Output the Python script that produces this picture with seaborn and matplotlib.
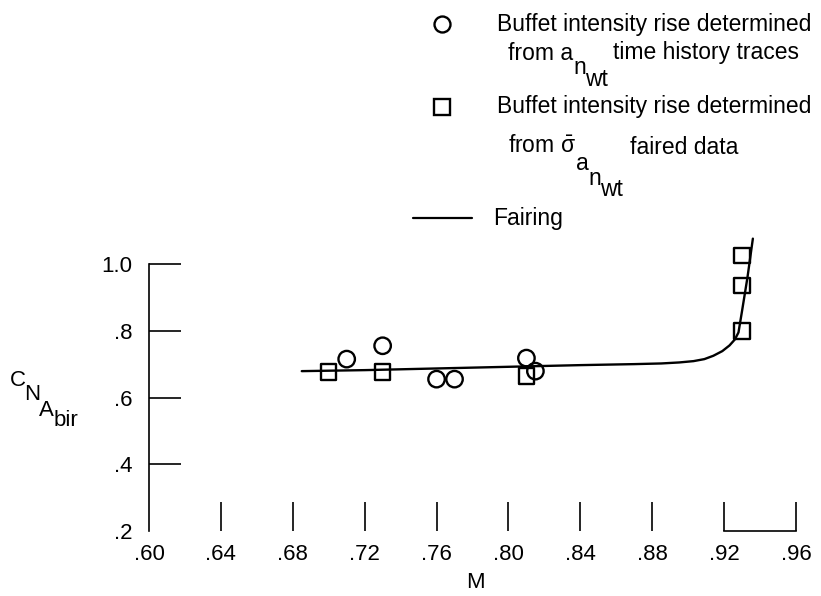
import matplotlib
matplotlib.use("Agg")
import matplotlib.pyplot as plt
import seaborn as sns
import pandas as pd

# Buffet-intensity-rise points (Mach number, normal-force coefficient)
circle_mach = [0.71, 0.73, 0.76, 0.77, 0.81, 0.815]
circle_cn = [0.715, 0.755, 0.655, 0.655, 0.718, 0.679]

square_mach = [0.70, 0.73, 0.81, 0.93, 0.93, 0.93]
square_cn = [0.676, 0.676, 0.664, 0.80, 0.935, 1.025]

# Faired curve through the data
fair_mach = [0.685, 0.72, 0.76, 0.80, 0.84, 0.87, 0.885, 0.895, 0.903, 0.909,
             0.914, 0.919, 0.923, 0.926, 0.928, 0.930, 0.933, 0.936]
fair_cn = [0.679, 0.682, 0.687, 0.692, 0.697, 0.700, 0.702, 0.705, 0.709, 0.715,
           0.725, 0.739, 0.756, 0.774, 0.795, 0.86, 0.96, 1.076]

x_ticks = [0.60, 0.64, 0.68, 0.72, 0.76, 0.80, 0.84, 0.88, 0.92, 0.96]
x_tick_labels = [".60", ".64", ".68", ".72", ".76", ".80", ".84", ".88", ".92", ".96"]
y_ticks = [0.2, 0.4, 0.6, 0.8, 1.0]
y_tick_labels = [".2", ".4", ".6", ".8", "1.0"]

sns.set_theme(style="white")
FONT = ["Liberation Sans", "DejaVu Sans"]
plt.rcParams["font.family"] = FONT
plt.rcParams["mathtext.fontset"] = "custom"
plt.rcParams["mathtext.rm"] = "Liberation Sans"
plt.rcParams["mathtext.it"] = "Liberation Sans"

W, H = 821, 596
fig = plt.figure(figsize=(W / 100, H / 100), dpi=100)

def px(x, y):
    return x / W, 1 - y / H

left, top, right, bottom = 149, 264, 796, 531
ax = fig.add_axes([left / W, 1 - bottom / H, (right - left) / W, (bottom - top) / H])

circles = pd.DataFrame({"M": circle_mach, "CN": circle_cn})
squares = pd.DataFrame({"M": square_mach, "CN": square_cn})
fairing = pd.DataFrame({"M": fair_mach, "CN": fair_cn})

sns.lineplot(data=fairing, x="M", y="CN", ax=ax, color="black", lw=1.7,
             estimator=None, sort=False, clip_on=False)
sns.scatterplot(data=circles, x="M", y="CN", ax=ax, marker="o", s=140,
                facecolor="none", edgecolor="black", linewidth=1.7, clip_on=False, zorder=3)
sns.scatterplot(data=squares, x="M", y="CN", ax=ax, marker="s", s=125,
                facecolor="none", edgecolor="black", linewidth=1.7, clip_on=False, zorder=3)

ax.set_xlim(0.60, 0.96)
ax.set_ylim(0.2, 1.0)
ax.set_xticks(x_ticks)
ax.set_xticklabels(x_tick_labels)
ax.set_yticks(y_ticks)
ax.set_yticklabels(y_tick_labels)
ax.set_xlabel("")
ax.set_ylabel("")

for side in ("top", "right"):
    ax.spines[side].set_visible(False)
for side in ("left", "bottom"):
    ax.spines[side].set_color("black")
    ax.spines[side].set_linewidth(1.2)
ax.spines["bottom"].set_bounds(0.92, 0.96)

ax.tick_params(axis="x", direction="in", length=21, width=1.2, color="black",
               labelsize=16, pad=9, bottom=True)
ax.tick_params(axis="y", direction="in", length=23, width=1.2, color="black",
               labelsize=16, pad=12, left=True)
ax.xaxis.get_major_ticks()[0].tick1line.set_visible(False)
ax.yaxis.get_major_ticks()[0].tick1line.set_visible(False)
for lab in ax.get_xticklabels() + ax.get_yticklabels():
    lab.set_color("black")
ax.set_facecolor("white")

# Axis titles
fig.text(*px(475, 582), "M", fontsize=16, ha="center", va="center", color="black")
ylab = [("C", 10, 380), ("N", 24, 394), ("A", 39, 410), ("bir", 54, 421)]
for s, x, y in ylab:
    fig.text(*px(x, y), s, fontsize=16, ha="left", va="center", color="black")

# Key
key_fs = 16.5
fig.lines.append(plt.Line2D([442 / W], [1 - 24 / H], marker="o", ms=11.5, mfc="none",
                            mec="black", mew=1.7, transform=fig.transFigure))
fig.lines.append(plt.Line2D([442 / W], [1 - 107 / H], marker="s", ms=11, mfc="none",
                            mec="black", mew=1.7, transform=fig.transFigure))
fig.lines.append(plt.Line2D([413 / W, 472 / W], [1 - 218 / H, 1 - 218 / H], color="black",
                            lw=1.6, transform=fig.transFigure))

pieces = [
    ("Buffet intensity rise determined", 497, 24),
    ("from a", 508, 53), ("n", 573, 68), ("wt", 585, 79), ("time history traces", 613, 53),
    ("Buffet intensity rise determined", 497, 107),
    ("from $\\bar{\\sigma}$", 508, 146), ("a", 576, 164), ("n", 588, 178), ("wt", 600, 190),
    ("faired data", 630, 148),
    ("Fairing", 493, 218),
]
for s, x, y in pieces:
    fig.text(*px(x, y), s, fontsize=key_fs, ha="left", va="center", color="black")

fig.savefig("out.png", dpi=100, facecolor="white")
